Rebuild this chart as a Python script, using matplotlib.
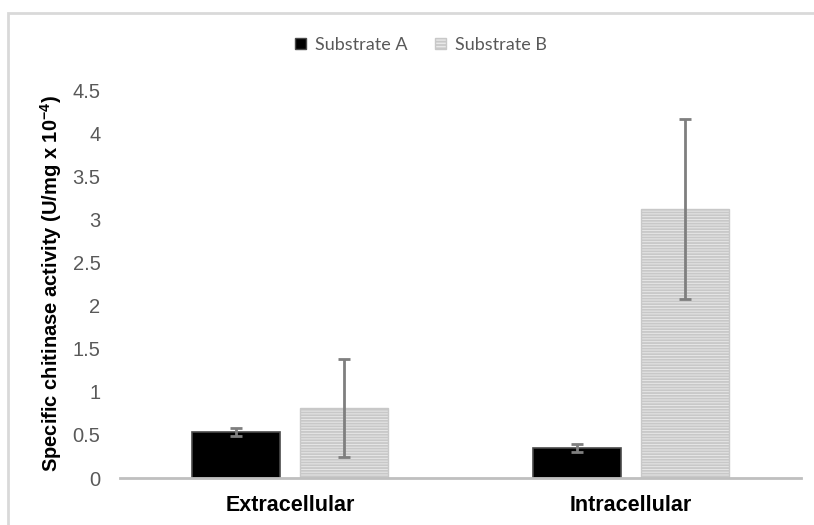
import matplotlib
matplotlib.use("Agg")
import matplotlib.pyplot as plt
from matplotlib.patches import Rectangle, Patch
import numpy as np

categories = ["Extracellular", "Intracellular"]
series_names = ["Substrate A", "Substrate B"]
substrate_a = [0.53, 0.35]
substrate_a_err = [0.045, 0.05]
substrate_b = [0.81, 3.12]
substrate_b_err = [0.57, 1.04]
y_ticks = [0, 0.5, 1, 1.5, 2, 2.5, 3, 3.5, 4, 4.5]
y_tick_labels = ["0", "0.5", "1", "1.5", "2", "2.5", "3", "3.5", "4", "4.5"]

sans = ["Liberation Sans", "DejaVu Sans"]
plt.rcParams["hatch.linewidth"] = 1.3
plt.rcParams["mathtext.fontset"] = "custom"
plt.rcParams["mathtext.rm"] = "Liberation Sans"
plt.rcParams["mathtext.bf"] = "Liberation Sans:bold"

W, H = 814, 525
fig = plt.figure(figsize=(W / 100, H / 100), dpi=100)

# outer chart frame (light gray), running off the right and bottom edges
fig.patches.append(Rectangle((8 / W, -0.2), 2.0, 1.2 - 13 / H, transform=fig.transFigure,
                             fill=False, edgecolor="#d9d9d9", linewidth=2, zorder=0))

ax = fig.add_axes([120 / W, (H - 478) / H, 681 / W, 388 / H])

x = np.arange(len(categories))
width = 0.258
offset = 0.1586

err_kw = dict(ecolor="#7f7f7f", elinewidth=2, capsize=4, capthick=2)

ax.bar(x - offset, substrate_a, width, color="black", edgecolor="#4a4a4a", linewidth=1.2,
       yerr=substrate_a_err, error_kw=err_kw, zorder=2)
ax.bar(x + offset, substrate_b, width, color="#e8e8e8", edgecolor="#c8c8c8", linewidth=1,
       hatch="------", yerr=substrate_b_err, error_kw=err_kw, zorder=2)

ax.set_xlim(-0.5, 1.5)
ax.set_ylim(0, 4.5)
ax.set_yticks(y_ticks)
ax.set_yticklabels(y_tick_labels, family=sans, fontsize=14.5, color="#595959")
ax.set_xticks(x)
ax.set_xticklabels(categories, family=sans, fontsize=15.5, fontweight="bold", color="black")
ax.tick_params(axis="both", length=0)
ax.tick_params(axis="x", pad=12)
ax.tick_params(axis="y", pad=14)

for side in ["top", "right", "left"]:
    ax.spines[side].set_visible(False)
ax.spines["bottom"].set_color("#bfbfbf")
ax.spines["bottom"].set_linewidth(2)

ax.set_ylabel(r"Specific chitinase activity (U/mg x 10$\mathbf{^{-4}}$)", family=sans,
              fontsize=14.5, fontweight="bold", color="black", labelpad=6)

handles = [Patch(facecolor="black", edgecolor="#4a4a4a"),
           Patch(facecolor="#e8e8e8", edgecolor="#c8c8c8", hatch="-----")]
fig.legend(handles, series_names, loc="center", bbox_to_anchor=(421 / W, 1 - 45 / H),
           ncol=2, frameon=False, prop={"family": ["Lato", "DejaVu Sans"], "size": 13},
           labelcolor="#595959", handlelength=0.6, handleheight=0.6, handletextpad=0.5,
           columnspacing=1.5)

fig.savefig("out.png", dpi=100, facecolor="white")
